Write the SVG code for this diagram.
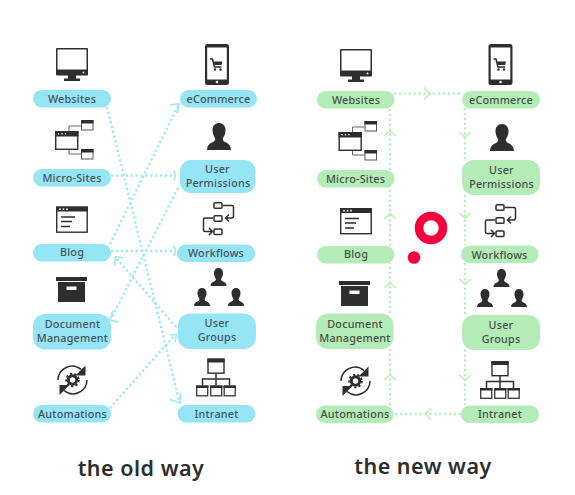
<svg xmlns="http://www.w3.org/2000/svg" width="575" height="495" viewBox="0 0 575 495">
<style>
text{font-family:"Noto Sans","Lato",sans-serif;font-size:10.800px;font-weight:500;letter-spacing:.2px;text-anchor:middle}
.o rect.p{fill:#96e5f5}.o text{fill:#44525c}
.n rect.p{fill:#b4ecb7}.n text{fill:#445148}
.o text.t,.n text.t{font-size:21.500px;fill:#2e2e2e;font-weight:600;letter-spacing:.5px}
.c path{fill:none;stroke-width:2.400}
.co path{stroke:#9de7f6}.cn path{stroke:#b9eebd}
.d{stroke-dasharray:2.200 2.700}
.c path.a{stroke-width:1.600}
.k{fill:#2e2e2e}.w{fill:#fff}
.s{fill:none;stroke:#2e2e2e;stroke-width:1.500}
.g{fill:none;stroke:#666;stroke-width:1}
</style>
<defs>
<symbol id="monitor" overflow="visible"><rect class="k" width="32" height="27.500" rx="1"/><rect class="w" x="1.500" y="1.500" width="29" height="20"/><circle class="w" cx="27.500" cy="24.500" r="1"/><rect class="k" x="12" y="27" width="8" height="4"/><rect class="k" x="8" y="30.500" width="16" height="2.500"/></symbol>
<symbol id="cart" overflow="visible"><path class="s" d="M0 0h2.500l2 8h7"/><path class="k" d="M3.500 2.500h9l-1 3.500h-7z"/><circle class="k" cx="5" cy="10.500" r="1.200"/><circle class="k" cx="10.500" cy="10.500" r="1.200"/></symbol>
<symbol id="phone" overflow="visible"><rect class="k" width="24" height="41" rx="2.500"/><rect class="w" x="2.200" y="3.500" width="19.600" height="32"/><circle class="w" cx="12" cy="38" r="1.300"/><use href="#cart" x="5" y="15"/></symbol>
<symbol id="micro" overflow="visible"><path class="g" d="M14 11V6H26M14 29V34H26"/><rect class="w" x="0.700" y="11.700" width="22" height="17.600" stroke="#2e2e2e" stroke-width="1.400"/><rect class="k" x="0" y="11" width="23.500" height="5.500"/><circle class="w" cx="3.500" cy="13.800" r=".8"/><circle class="w" cx="7" cy="13.800" r=".8"/><circle class="w" cx="10.500" cy="13.800" r=".8"/><rect class="w" x="26.500" y=".5" width="11.500" height="9.500" stroke="#555" stroke-width="1"/><rect class="k" x="26" y="0" width="12.500" height="3.500"/><rect class="w" x="26.500" y="29.500" width="11.500" height="9.500" stroke="#555" stroke-width="1"/><rect class="k" x="26" y="29" width="12.500" height="3.500"/></symbol>
<symbol id="user" overflow="visible"><path class="k" d="M12 0c4 0 6.500 3 6.500 7 0 3-1 6-2.500 8-.6 1.500 0 3 2 4 3 1.300 5.500 2.500 6 8H0c.5-5.500 3-6.700 6-8 2-1 2.600-2.500 2-4-1.500-2-2.500-5-2.500-8 0-4 2.500-7 6.500-7z"/></symbol>
<symbol id="blog" overflow="visible"><rect width="30.500" height="25" x=".7" y=".7" fill="#fff" stroke="#2e2e2e" stroke-width="1.400"/><rect class="k" x="0" y="0" width="32" height="5"/><circle class="w" cx="4" cy="2.700" r=".9"/><circle class="w" cx="7.500" cy="2.700" r=".9"/><circle class="w" cx="11" cy="2.700" r=".9"/><path d="M5 10.500H19M5 15H16M5 20H14" stroke="#2e2e2e" stroke-width="1.500"/></symbol>
<symbol id="flow" overflow="visible"><g class="s"><rect x="12" y=".7" width="8" height="5.500" rx="1"/><rect x="12" y="13.700" width="8" height="5.500" rx="1"/><rect x="12" y="27" width="8" height="5.500" rx="1"/><path d="M21 3.500H30q1.500 0 1.500 1.500V14q0 2-2 2H24M27 12.500L23.500 16 27 19.500M11 16H3q-1.500 0-1.500 1.500V28q0 1.500 1.500 1.500H10M7 26L10.500 29.500 7 33"/></g></symbol>
<symbol id="box" overflow="visible"><rect class="k" width="31" height="4"/><rect class="k" x="2" y="5" width="27" height="20"/><rect class="w" x="10.500" y="9.500" width="10" height="3.500"/></symbol>
<symbol id="person" overflow="visible"><path class="k" d="M8 0c2.800 0 4.500 2 4.500 5 0 2-.7 4-1.700 5.500-.4 1.200 0 2 1.300 2.700 2 .9 3.700 1.700 3.900 4.800H0c.2-3.100 1.900-3.900 3.900-4.800 1.300-.7 1.700-1.500 1.300-2.700C4.200 9 3.500 7 3.500 5 3.500 2 5.200 0 8 0z"/></symbol>
<symbol id="group" overflow="visible"><use href="#person" x="17.500"/><use href="#person" x="1" y="20"/><use href="#person" x="35" y="20"/></symbol>
<symbol id="auto" overflow="visible"><path class="s" d="M1 15A14 14 0 0 1 24 4.500M30 15A14 14 0 0 1 7 25.500"/><path class="k" d="M28.500 0.500V10.500H18.500zM2.500 30V20H12.500z"/><circle cx="15.500" cy="15" r="4.200" fill="none" stroke="#2e2e2e" stroke-width="3"/><circle cx="15.500" cy="15" r="6.300" fill="none" stroke="#2e2e2e" stroke-width="2" stroke-dasharray="2.200 2.200"/></symbol>
<symbol id="net" overflow="visible"><rect x="12" y=".7" width="16" height="14" fill="#fff" stroke="#2e2e2e" stroke-width="1.400"/><rect class="k" x="11.500" y="0" width="17" height="4"/><path class="s" d="M20 15V20M6.500 27V20.500H33.500V27M20 20V27"/><g id="ng"><rect x=".7" y="27.700" width="11" height="9.600" fill="#fff" stroke="#444" stroke-width="1.400"/><rect class="k" x="0" y="27" width="12.500" height="2.500"/></g><use href="#ng" x="14"/><use href="#ng" x="27.500"/></symbol>
</defs>

<g id="connectors-old" class="c co">
<path class="d" d="M107 107L179 400M110 408L174 336M176 327L116 258M111 175.500H174M110 244L178 106M111 251H174M178 188L111 319"/>
<path class="a" d="M170 399.500L180 403 180.500 393.500M170 335L176.500 334.500 175 342M114.500 266L115.500 256.500 123 258M174 170.500L175.500 175.500 174 180.500M170 105L179 104 177 113.500M174 246L175.500 251 174 256M119 322L110 320 113 311"/>
</g>
<g id="connectors-new" class="c cn">
<path class="d" d="M394 93.500H461M465 108V160M465 195V245M465 263V315M465 349.500V405M461 414H394M390 405V349M390 313V263M390 246V187M390 170V108"/>
<path class="a" d="M424 87.500L430 93.500 424 99.500M459 132L465 137 471 132M459 213L465 218 471 213M459 279L465 284 471 279M459 375L465 380 471 375M431 408L425.500 414 431 420M384 380L390 375 396 380M384 288L390 283 396 288M384 219L390 214 396 219M384 136L390 131 396 136"/>
</g>

<g class="o">
<g id="o-websites"><use href="#monitor" x="56" y="48"/><rect class="p" x="33" y="90" width="78" height="17.500" rx="8.700"/><text x="72" y="102.500">Websites</text></g>
<g id="o-ecommerce"><use href="#phone" x="205" y="44"/><rect class="p" x="180" y="90" width="77" height="17.500" rx="8.700"/><text x="218.500" y="102.500">eCommerce</text></g>
<g id="o-micro"><use href="#micro" x="55" y="120"/><rect class="p" x="33" y="169" width="78" height="17.500" rx="8.700"/><text x="72" y="181.500">Micro-Sites</text></g>
<g id="o-permissions"><use href="#user" x="207" y="123"/><rect class="p" x="180" y="160" width="75.500" height="33" rx="11"/><text x="217.500" y="172.500">User</text><text x="218" y="186.500">Permissions</text></g>
<g id="o-blog"><use href="#blog" x="56" y="206.500"/><rect class="p" x="33" y="244" width="78" height="17.500" rx="8.700"/><text x="72" y="256">Blog</text></g>
<g id="o-workflows"><use href="#flow" x="202" y="202"/><rect class="p" x="177" y="244.500" width="78" height="17.500" rx="8.700"/><text x="216" y="257">Workflows</text></g>
<g id="o-document"><use href="#box" x="56" y="277"/><rect class="p" x="33" y="314" width="78" height="35.500" rx="12"/><text x="72.500" y="328">Document</text><text x="72.500" y="342">Management</text></g>
<g id="o-groups"><use href="#group" x="193" y="268"/><rect class="p" x="178" y="313.500" width="78" height="35.500" rx="12"/><text x="217" y="327">User</text><text x="217" y="341">Groups</text></g>
<g id="o-automations"><use href="#auto" x="57" y="365"/><rect class="p" x="33" y="405" width="78" height="17.500" rx="8.700"/><text x="72.500" y="417.500">Automations</text></g>
<g id="o-intranet"><use href="#net" x="196" y="358.500"/><rect class="p" x="177.500" y="405" width="78" height="17.500" rx="8.700"/><text x="216.500" y="417.500">Intranet</text></g>
<text class="t" x="141" y="476">the old way</text>
</g>

<g class="n">
<g id="n-websites"><use href="#monitor" x="340" y="49"/><rect class="p" x="317" y="91" width="77.500" height="17.500" rx="8.700"/><text x="356" y="103.500">Websites</text></g>
<g id="n-ecommerce"><use href="#phone" x="488.500" y="44"/><rect class="p" x="462" y="91" width="78" height="17.500" rx="8.700"/><text x="501" y="104">eCommerce</text></g>
<g id="n-micro"><use href="#micro" x="338.500" y="121"/><rect class="p" x="317" y="170" width="77.500" height="17.500" rx="8.700"/><text x="355.500" y="182.500">Micro-Sites</text></g>
<g id="n-permissions"><use href="#user" x="490" y="124"/><rect class="p" x="462" y="160" width="78" height="35" rx="12"/><text x="501.500" y="173.500">User</text><text x="501.500" y="187.500">Permissions</text></g>
<g id="n-blog"><use href="#blog" x="340" y="208"/><rect class="p" x="317" y="246" width="77.500" height="17.500" rx="8.700"/><text x="356" y="258">Blog</text></g>
<g id="n-workflows"><use href="#flow" x="484" y="204"/><rect class="p" x="461" y="245.500" width="77.500" height="17.500" rx="8.700"/><text x="499.500" y="258.500">Workflows</text></g>
<g id="n-document"><use href="#box" x="339" y="281"/><rect class="p" x="316" y="313.500" width="77.500" height="35.500" rx="12"/><text x="355" y="327.500">Document</text><text x="355" y="341.500">Management</text></g>
<g id="n-groups"><use href="#group" x="476" y="269"/><rect class="p" x="462" y="315" width="78" height="35" rx="12"/><text x="501" y="329">User</text><text x="501" y="343">Groups</text></g>
<g id="n-automations"><use href="#auto" x="340" y="366"/><rect class="p" x="316" y="405.500" width="77.500" height="17.500" rx="8.700"/><text x="355" y="418">Automations</text></g>
<g id="n-intranet"><use href="#net" x="480" y="361"/><rect class="p" x="461" y="405.500" width="78" height="17.500" rx="8.700"/><text x="500" y="418">Intranet</text></g>
<text class="t" x="423" y="474">the new way</text>
</g>

<g id="logo"><circle cx="431" cy="228" r="12" fill="none" stroke="#f5003c" stroke-width="8.500"/><circle cx="414" cy="257.500" r="6.300" fill="#f5003c"/></g>
</svg>
